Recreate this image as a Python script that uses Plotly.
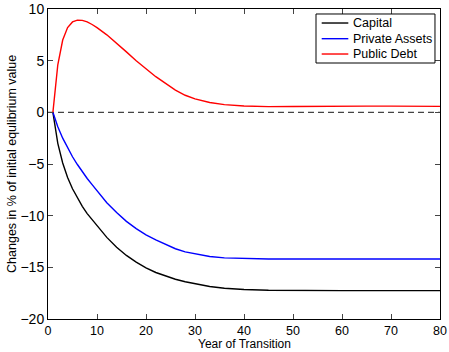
import plotly.graph_objects as go

years = [1, 2, 3, 4, 5, 6, 7, 8, 9, 10, 12, 14, 16, 18, 20, 22, 24, 26, 28, 30,
         33, 36, 40, 45, 50, 55, 60, 65, 70, 75, 80]
capital = [0, -3.0, -4.9, -6.3, -7.4, -8.3, -9.1, -9.8, -10.4, -11.0, -12.1, -13.05,
           -13.85, -14.5, -15.05, -15.5, -15.85, -16.15, -16.4, -16.6, -16.85, -17.02,
           -17.15, -17.22, -17.25, -17.25, -17.25, -17.25, -17.25, -17.25, -17.25]
private_assets = [0, -1.4, -2.5, -3.45, -4.3, -5.05, -5.75, -6.4, -7.0, -7.6, -8.75,
                  -9.7, -10.55, -11.25, -11.85, -12.35, -12.8, -13.2, -13.5, -13.7,
                  -13.95, -14.08, -14.15, -14.2, -14.2, -14.2, -14.2, -14.2, -14.2,
                  -14.2, -14.2]
public_debt = [0, 4.6, 7.0, 8.2, 8.75, 8.92, 8.9, 8.75, 8.5, 8.2, 7.5, 6.7, 5.85,
               5.0, 4.2, 3.45, 2.8, 2.15, 1.65, 1.3, 0.95, 0.75, 0.62, 0.55, 0.57,
               0.6, 0.6, 0.6, 0.6, 0.58, 0.58]
zero_x = [0, 80]
zero_y = [0, 0]

series_names = ["Capital", "Private Assets", "Public Debt"]
series_colors = ["black", "blue", "red"]

x_ticks = [0, 10, 20, 30, 40, 50, 60, 70, 80]
y_ticks = [-20, -15, -10, -5, 0, 5, 10]

fig = go.Figure()
fig.add_trace(go.Scatter(x=zero_x, y=zero_y, mode="lines", showlegend=False,
                         line=dict(color="#444444", width=1.2, dash="6px,4px")))
for name, vals, col in zip(series_names, [capital, private_assets, public_debt], series_colors):
    fig.add_trace(go.Scatter(x=years, y=vals, mode="lines", name=name, showlegend=False,
                             line=dict(color=col, width=1.4)))

font_family = "Liberation Sans, Arial, Helvetica, sans-serif"

# compact MATLAB-style legend box
shapes = [dict(type="rect", xref="paper", yref="paper", x0=0.6837, x1=0.9872,
               y0=0.8258, y1=0.9839, line=dict(color="black", width=1),
               fillcolor="white", layer="above")]
annotations = []
row_y = [0.9548, 0.9042, 0.8548]
for name, col, yy in zip(series_names, series_colors, row_y):
    shapes.append(dict(type="line", xref="paper", yref="paper", x0=0.6982, x1=0.7661,
                       y0=yy, y1=yy, line=dict(color=col, width=1.4), layer="above"))
    annotations.append(dict(text=name, x=0.7722, y=yy, xref="paper", yref="paper",
                            xanchor="left", yanchor="middle", showarrow=False,
                            font=dict(size=12.5)))

annotations += [
    dict(text="Year of Transition", x=0.5, y=-0.0806, xref="paper", yref="paper",
         xanchor="center", yanchor="middle", showarrow=False, borderpad=0,
         font=dict(size=12)),
    dict(text="Changes in % of initial equlibrium value", x=-0.092, y=0.5,
         xref="paper", yref="paper", xanchor="center", yanchor="middle",
         textangle=-90, showarrow=False, font=dict(size=12.5)),
]

fig.update_layout(
    width=449, height=352,
    margin=dict(l=48, r=9, t=9, b=33, autoexpand=False),
    paper_bgcolor="white", plot_bgcolor="white",
    font=dict(family=font_family, color="black", size=13),
    showlegend=False,
    shapes=shapes,
    annotations=annotations,
)
fig.update_xaxes(range=[0, 80], tickvals=x_ticks, ticks="inside", ticklen=5,
                 showline=True, linecolor="black", linewidth=1, mirror="ticks",
                 showgrid=False, zeroline=False, tickfont=dict(size=12.5), automargin=False)
fig.update_yaxes(range=[-20, 10], tickvals=y_ticks, ticks="inside", ticklen=5,
                 showline=True, linecolor="black", linewidth=1, mirror="ticks",
                 showgrid=False, zeroline=False, tickfont=dict(size=14), automargin=False)

fig.write_html("out.html")
